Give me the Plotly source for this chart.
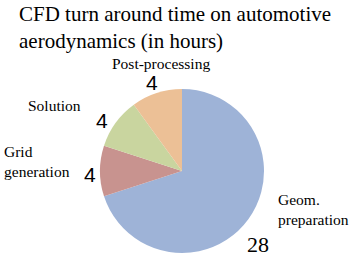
import plotly.graph_objects as go

categories = ["Geom.<br>preparation", "Grid<br>generation", "Solution", "Post-processing"]
hours = [28, 4, 4, 4]
colors = ["#9EB3D7", "#C8938F", "#C9D59F", "#ECC096"]

W, H = 349, 258
SERIF = "Liberation Serif, Times New Roman, serif"
SANS = "Liberation Sans, Arial, sans-serif"

fig = go.Figure(go.Pie(
    labels=categories, values=hours, sort=False, direction="clockwise",
    rotation=0, marker=dict(colors=colors, line=dict(width=0)),
    textinfo="none", hoverinfo="label+value", showlegend=False,
    domain=dict(x=[(182-82)/W, (182+82)/W], y=[(87-82)/H, (87+82)/H]),
))

def px(x, y):
    return x / W, 1 - y / H

anns = []
tx, ty = px(17, 0)
anns.append(dict(text="CFD turn around time on automotive<br>aerodynamics (in hours)", x=tx, y=ty,
                 xanchor="left", yanchor="top", align="left", showarrow=False,
                 font=dict(family=SERIF, size=21, color="#000")))
lab_pos = [(276, 209, "left", "left"), (2, 161, "left", "left"), (54, 105, "center", "center"), (161, 63, "center", "center")]
val_pos = [(258, 244), (90, 174), (102, 121), (152, 82)]
for i, c in enumerate(categories):
    x, y, xa, al = lab_pos[i]
    ax, ay = px(x, y)
    anns.append(dict(text=c, x=ax, y=ay, xanchor=xa, yanchor="middle", align=al, showarrow=False,
                     font=dict(family=SERIF, size=15.5, color="#000")))
    vx, vy = px(*val_pos[i])
    big = hours[i] >= 10
    anns.append(dict(text=str(hours[i]), x=vx, y=vy, xanchor="center", yanchor="middle", showarrow=False,
                     font=dict(family=SERIF if big else SANS, size=22 if big else 21, color="#000")))

fig.update_layout(width=W, height=H, margin=dict(l=0, r=0, t=0, b=0),
                  paper_bgcolor="white", annotations=anns)
fig.write_html("out.html", config={"displayModeBar": False},
               post_script="document.body.style.margin='0';document.body.style.padding='0';")
